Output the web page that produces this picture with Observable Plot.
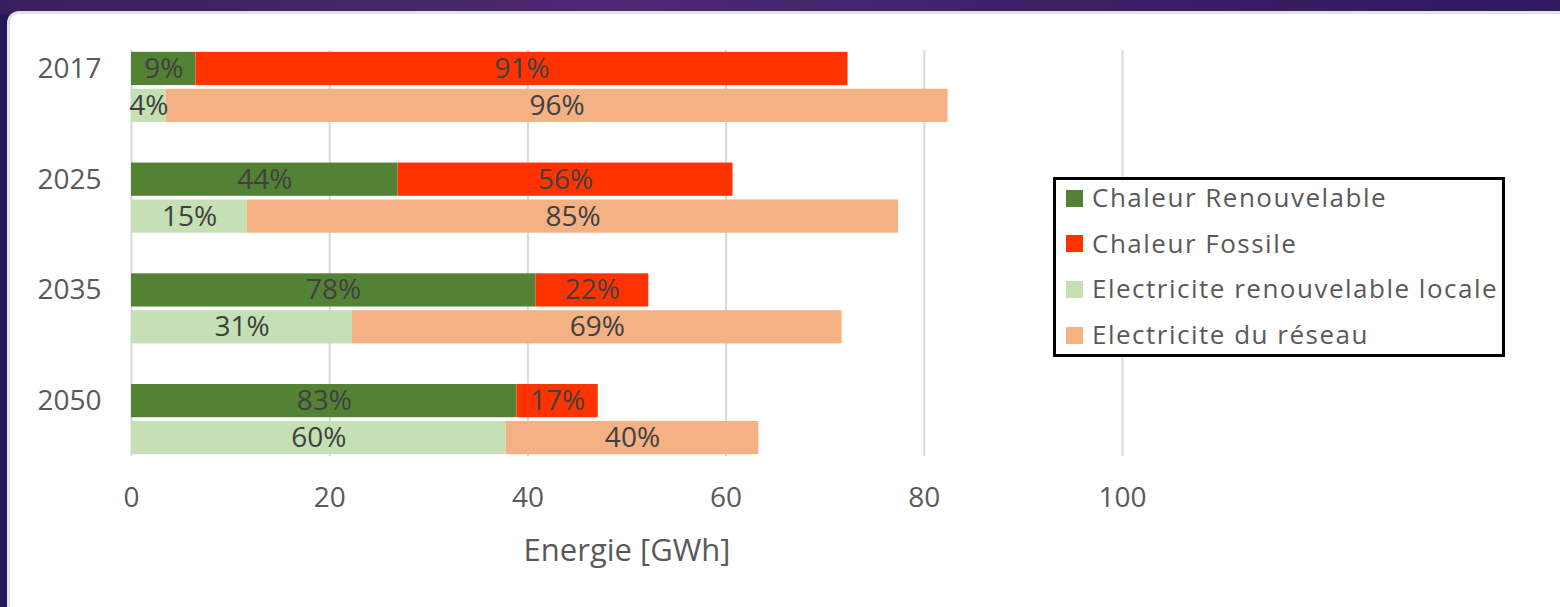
<!DOCTYPE html>
<html><head><meta charset="utf-8">
<script src="https://cdn.jsdelivr.net/npm/d3@7"></script>
<script src="https://cdn.jsdelivr.net/npm/@observablehq/plot@0.6"></script>
<style>
html,body{margin:0;padding:0;}
body{width:1560px;height:607px;position:relative;overflow:hidden;background:#241858;font-family:"Open Sans",sans-serif;}
#topband{position:absolute;left:0;top:0;width:1560px;height:14px;background:linear-gradient(90deg,#3a1f60,#4a2a70 40%,#3b2064 70%,#2e1a5c);}
#panel{position:absolute;left:7px;top:11px;right:0;bottom:0;background:#fff;border-top:3px solid #e2e2e2;border-left:3px solid #e2e2e2;border-top-left-radius:12px;}
#chart{position:absolute;left:0;top:0;}
#legend{position:absolute;left:1053px;top:177px;width:446px;height:174px;border:3px solid #000;background:#fff;}
.item{position:absolute;left:10px;height:46px;line-height:46px;font-size:26px;letter-spacing:1.5px;color:#595959;white-space:nowrap;}
.sw{display:inline-block;width:17px;height:17px;margin-right:9px;vertical-align:middle;position:relative;top:-2px;}
</style></head>
<body>
<div id="topband"></div>
<div id="panel"></div>
<div id="chart"></div>
<div id="legend"></div>
<script>
const years = ["2017", "2025", "2035", "2050"];
const series = ["Chaleur Renouvelable", "Chaleur Fossile", "Electricite renouvelable locale", "Electricite du réseau"];
const colors = ["#548235", "#ff3300", "#c5e0b4", "#f4b183"];
const chaleurRenouvelable = [6.5, 26.9, 40.8, 38.9];
const chaleurFossile = [65.8, 33.8, 11.4, 8.2];
const electriciteLocale = [3.5, 11.7, 22.3, 37.8];
const electriciteReseau = [78.9, 65.7, 49.4, 25.5];
const pctChaleurRenouvelable = ["9%", "44%", "78%", "83%"];
const pctChaleurFossile = ["91%", "56%", "22%", "17%"];
const pctElectriciteLocale = ["4%", "15%", "31%", "60%"];
const pctElectriciteReseau = ["96%", "85%", "69%", "40%"];
const xTicks = [0, 20, 40, 60, 80, 100];
const xLabel = "Energie [GWh]";

const rows = [];
years.forEach((y, i) => {
  rows.push({row: y + "|chaleur", series: series[0], value: chaleurRenouvelable[i], label: pctChaleurRenouvelable[i]});
  rows.push({row: y + "|chaleur", series: series[1], value: chaleurFossile[i], label: pctChaleurFossile[i]});
  rows.push({row: y + "|elec", series: series[2], value: electriciteLocale[i], label: pctElectriciteLocale[i]});
  rows.push({row: y + "|elec", series: series[3], value: electriciteReseau[i], label: pctElectriciteReseau[i]});
});
const rowDomain = years.flatMap((y, i) => i < years.length - 1 ? [y + "|chaleur", y + "|elec", y + "|vide"] : [y + "|chaleur", y + "|elec"]);

const chart = Plot.plot({
  width: 1560, height: 607,
  marginLeft: 131, marginRight: 438, marginTop: 50, marginBottom: 151,
  style: {background: "transparent", fontFamily: "'Open Sans', sans-serif", fontSize: "28px", color: "#595959"},
  x: {domain: [0, 100]},
  y: {domain: rowDomain, paddingInner: 0.1, paddingOuter: 0.05, round: false},
  color: {domain: series, range: colors},
  marks: [
    Plot.gridX(xTicks, {stroke: "#d9d9d9", strokeOpacity: 1, strokeWidth: 2}),
    Plot.barX(rows, Plot.stackX({x: "value", y: "row", fill: "series", order: null})),
    Plot.text(rows, Plot.stackX({x: "value", y: "row", z: "series", text: "label", fill: "#404040", fontSize: 28, order: null})),
    Plot.axisY(years.map(y => y + "|chaleur"), {tickSize: 0, tickPadding: 30, tickFormat: d => d.split("|")[0], fontSize: 28, fill: "#595959", label: null}),
    Plot.axisX(xTicks, {tickSize: 0, tickPadding: 31, fontSize: 28, fill: "#595959", label: null}),
    Plot.text([xLabel], {frameAnchor: "bottom", dy: 104, fontSize: 31, fill: "#595959", text: d => d})
  ]
});
document.getElementById("chart").appendChild(chart);

const legend = document.getElementById("legend");
series.forEach((s, i) => {
  const it = document.createElement("div");
  it.className = "item";
  it.style.top = (-6 + i * 45.7) + "px";
  const sw = document.createElement("span");
  sw.className = "sw";
  sw.style.background = colors[i];
  it.appendChild(sw);
  it.appendChild(document.createTextNode(s));
  legend.appendChild(it);
});
</script>
</body></html>
